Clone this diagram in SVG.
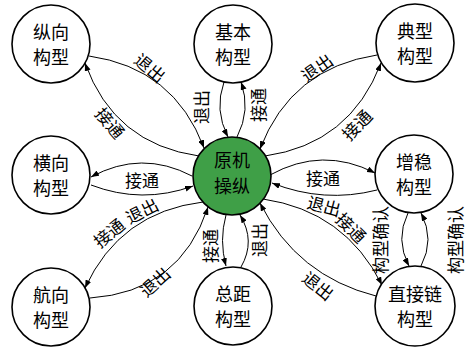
<svg xmlns="http://www.w3.org/2000/svg" width="473" height="351" viewBox="0 0 473 351">
<defs>
<marker id="ah" markerUnits="userSpaceOnUse" markerWidth="9" markerHeight="6" refX="8" refY="3" orient="auto">
<path d="M0,0 L8,3 L0,6 z" fill="#000"/>
</marker>
<style>
.n{fill:#fff;stroke:#000;stroke-width:1.6}
.c{fill:#3f9f47;stroke:#000;stroke-width:1.6}
.t{font-family:"Noto Sans CJK SC","Noto Sans CJK JP",sans-serif;font-size:18px;text-anchor:middle;fill:#000}
.l{font-family:"Noto Sans CJK SC","Noto Sans CJK JP",sans-serif;font-size:17px;text-anchor:middle;fill:#000}
.e{fill:none;stroke:#000;stroke-width:1;marker-end:url(#ah)}
</style>
</defs>
<rect width="473" height="351" fill="#fff"/>
<g id="connectors">
<path class="e" d="M89,56 Q174,68 204,148"/>
<path class="e" d="M199,156 Q114,144 85,63"/>
<path class="e" d="M224,82 Q214,110 228,137"/>
<path class="e" d="M237,137 Q251,110 241,82"/>
<path class="e" d="M377,55 Q291,68 260,149"/>
<path class="e" d="M265,156 Q350,144 381,63"/>
<path class="e" d="M192,176 Q141.5,149.5 91,177"/>
<path class="e" d="M91,185 Q142,204.5 193,186"/>
<path class="e" d="M203,202 Q120,212 85,288"/>
<path class="e" d="M90,298 Q180,292 208,207"/>
<path class="e" d="M226,215 Q219,240.5 226,266"/>
<path class="e" d="M241,267 Q256,241 240,215"/>
<path class="e" d="M270,175 Q322.5,146 375,173"/>
<path class="e" d="M377,190 Q324,203.5 272,183"/>
<path class="e" d="M263,199 Q345,211 382,285"/>
<path class="e" d="M376,296 Q297,276 260,203"/>
<path class="e" d="M408,213 Q395,239.5 409,266"/>
<path class="e" d="M421,266 Q435,239.5 421,213"/>
<g class="labels">
<text class="l" transform="translate(150,68) rotate(40)" y="6.5">退出</text>
<text class="l" transform="translate(110,123) rotate(50)" y="6.5">接通</text>
<text class="l" transform="translate(201,107) rotate(-90)" y="6.5">退出</text>
<text class="l" transform="translate(258,105) rotate(-90)" y="6.5">接通</text>
<text class="l" transform="translate(317,68) rotate(-35)" y="6.5">退出</text>
<text class="l" transform="translate(357,125) rotate(-46)" y="6.5">接通</text>
<text class="l" transform="translate(142,180)" y="6.5">接通</text>
<text class="l" transform="translate(109,233) rotate(-39)" y="6.5">接通</text>
<text class="l" transform="translate(142,211) rotate(-27)" y="6.5">退出</text>
<text class="l" transform="translate(155,282) rotate(-42)" y="6.5">退出</text>
<text class="l" transform="translate(210,246) rotate(-90)" y="6.5">接通</text>
<text class="l" transform="translate(259,240) rotate(-90)" y="6.5">退出</text>
<text class="l" transform="translate(323,178)" y="6.5">接通</text>
<text class="l" transform="translate(324,206) rotate(15)" y="6.5">退出</text>
<text class="l" transform="translate(351,228) rotate(45)" y="6.5">接通</text>
<text class="l" transform="translate(318,286) rotate(39)" y="6.5">退出</text>
<text class="l" transform="translate(380,240) rotate(-90)" y="6.5">构型确认</text>
<text class="l" transform="translate(455,240) rotate(-90)" y="6.5">构型确认</text>
</g>
</g>
<g id="center">
<circle class="c" cx="232" cy="176" r="39"/>
<text class="t" x="232" y="167">原机</text>
<text class="t" x="232" y="193">操纵</text>
</g>
<g id="zongxiang">
<circle class="n" cx="51" cy="44" r="39"/>
<text class="t" x="51" y="39">纵向</text>
<text class="t" x="51" y="64">构型</text>
</g>
<g id="jiben">
<circle class="n" cx="233" cy="44" r="39"/>
<text class="t" x="233" y="39">基本</text>
<text class="t" x="233" y="64">构型</text>
</g>
<g id="dianxing">
<circle class="n" cx="415" cy="43" r="39"/>
<text class="t" x="415" y="38">典型</text>
<text class="t" x="415" y="63">构型</text>
</g>
<g id="hengxiang">
<circle class="n" cx="51" cy="175" r="39"/>
<text class="t" x="51" y="170">横向</text>
<text class="t" x="51" y="195">构型</text>
</g>
<g id="zengwen">
<circle class="n" cx="414" cy="174" r="39"/>
<text class="t" x="414" y="169">增稳</text>
<text class="t" x="414" y="194">构型</text>
</g>
<g id="hangxiang">
<circle class="n" cx="51" cy="307" r="39"/>
<text class="t" x="51" y="302">航向</text>
<text class="t" x="51" y="327">构型</text>
</g>
<g id="zongju">
<circle class="n" cx="233" cy="306" r="39"/>
<text class="t" x="233" y="301">总距</text>
<text class="t" x="233" y="326">构型</text>
</g>
<g id="zhijielian">
<circle class="n" cx="415" cy="306" r="40"/>
<text class="t" x="415" y="301">直接链</text>
<text class="t" x="415" y="326">构型</text>
</g>
</svg>
